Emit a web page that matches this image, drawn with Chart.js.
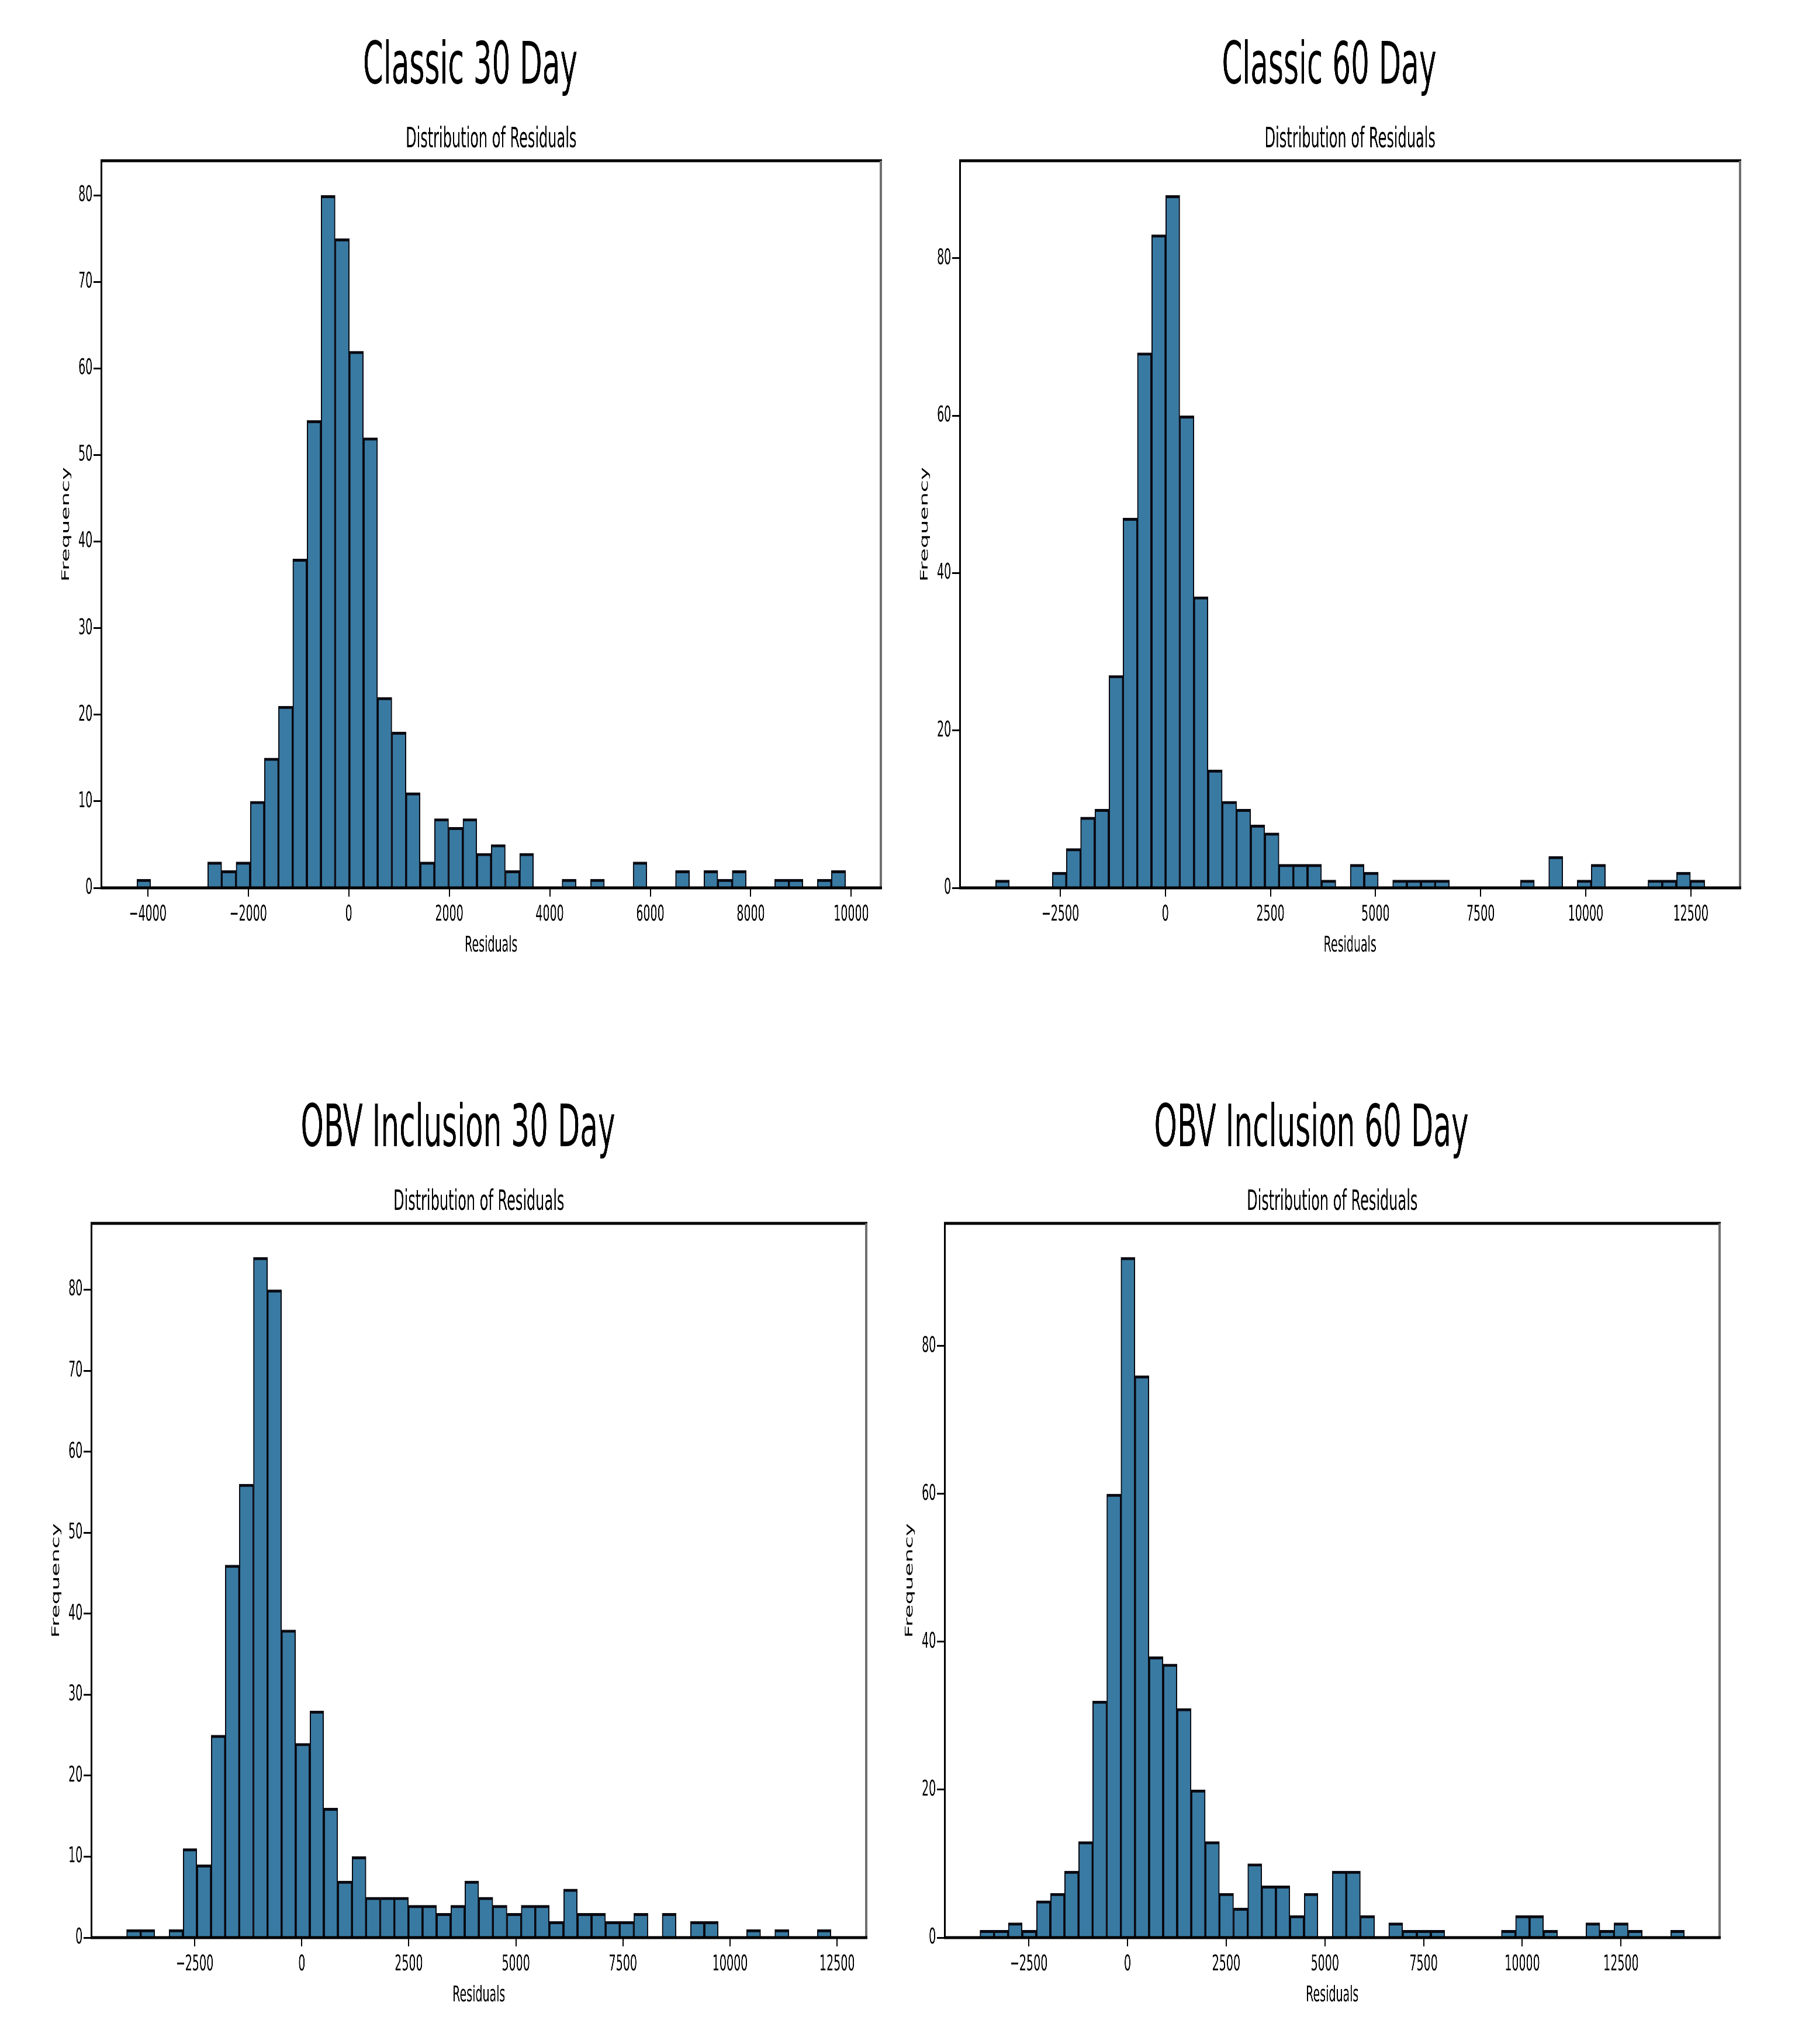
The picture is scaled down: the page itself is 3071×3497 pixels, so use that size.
<!DOCTYPE html>
<html>
<head>
<meta charset="utf-8">
<title>Distribution of Residuals</title>
<script src="https://cdn.jsdelivr.net/npm/chart.js@4.4.1/dist/chart.umd.min.js"></script>
<style>
  html, body { margin: 0; padding: 0; background: #fff; overflow: hidden; }
  /* la figura original está comprimida en horizontal: se dibuja al doble de ancho y se escala */
  #lienzo { position: relative; width: 6142px; height: 3497px; transform: scaleX(0.5); transform-origin: 0 0; }
  #lienzo canvas { position: absolute; }
</style>
</head>
<body>
<div id="lienzo"></div>
<script>
const classic30Counts = [1, 0, 0, 0, 0, 3, 2, 3, 10, 15, 21, 38, 54, 80, 75, 62, 52, 22, 18, 11,
  3, 8, 7, 8, 4, 5, 2, 4, 0, 0, 1, 0, 1, 0, 0, 3, 0, 0, 2, 0, 2, 1, 2, 0, 0, 1, 1, 0, 1, 2];
const classic60Counts = [1, 0, 0, 0, 2, 5, 9, 10, 27, 47, 68, 83, 88, 60, 37, 15, 11, 10, 8, 7,
  3, 3, 3, 1, 0, 3, 2, 0, 1, 1, 1, 1, 0, 0, 0, 0, 0, 1, 0, 4, 0, 1, 3, 0, 0, 0, 1, 1, 2, 1];
const obv30Counts = [1, 1, 0, 1, 11, 9, 25, 46, 56, 84, 80, 38, 24, 28, 16, 7, 10, 5, 5, 5,
  4, 4, 3, 4, 7, 5, 4, 3, 4, 4, 2, 6, 3, 3, 2, 2, 3, 0, 3, 0, 2, 2, 0, 0, 1, 0, 1, 0, 0, 1];
const obv60Counts = [1, 1, 2, 1, 5, 6, 9, 13, 32, 60, 92, 76, 38, 37, 31, 20, 13, 6, 4, 10,
  7, 7, 3, 6, 0, 9, 9, 3, 0, 2, 1, 1, 1, 0, 0, 0, 0, 1, 3, 3, 1, 0, 0, 2, 1, 2, 1, 0, 0, 1];

// Rango de los residuos (mínimo, máximo) de cada histograma
const classic30Range = [-4220, 9886];
const classic60Range = [-4045, 12832];
const obv30Range = [-4090, 12360];
const obv60Range = [-3738, 14108];

// Marcas de los ejes
const classic30XTicks = [-4000, -2000, 0, 2000, 4000, 6000, 8000, 10000];
const residualXTicks = [-2500, 0, 2500, 5000, 7500, 10000, 12500];
const yTicks10 = [0, 10, 20, 30, 40, 50, 60, 70, 80];
const yTicks20 = [0, 20, 40, 60, 80];

const panelTitles = ['Classic 30 Day', 'Classic 60 Day', 'OBV Inclusion 30 Day', 'OBV Inclusion 60 Day'];

// Geometría (px de la imagen original): caja de ejes [izq, arriba, der, abajo]
const ESCALA_X = 2;
const Y_AXIS_W = 143;
const X_AXIS_H = 122;
const PAD_DER = 10;

const paneles = [
  { titulo: panelTitles[0], counts: classic30Counts, range: classic30Range, xTicks: classic30XTicks, yTicks: yTicks10, eje: [173, 275, 1507, 1519] },
  { titulo: panelTitles[1], counts: classic60Counts, range: classic60Range, xTicks: residualXTicks, yTicks: yTicks20, eje: [1642, 275, 2977, 1519] },
  { titulo: panelTitles[2], counts: obv30Counts, range: obv30Range, xTicks: residualXTicks, yTicks: yTicks10, eje: [156, 2093, 1482, 3315] },
  { titulo: panelTitles[3], counts: obv60Counts, range: obv60Range, xTicks: residualXTicks, yTicks: yTicks20, eje: [1616, 2093, 2942, 3315] }
];

Chart.defaults.font.family = "'DejaVu Sans', sans-serif";
Chart.defaults.color = '#000';

const formatoTick = v => v < 0 ? '\u2212' + Math.abs(v) : String(v);

// Marco del área de ejes (spines)
const marcoEjes = {
  id: 'marcoEjes',
  afterDatasetsDraw(chart) {
    const { ctx, chartArea: a } = chart;
    const linea = (x1, y1, x2, y2, ancho, color) => {
      ctx.beginPath();
      ctx.lineWidth = ancho;
      ctx.strokeStyle = color;
      ctx.moveTo(x1, y1);
      ctx.lineTo(x2, y2);
      ctx.stroke();
    };
    ctx.save();
    linea(a.left - 3, a.top, a.right + 4, a.top, 5, '#000');
    linea(a.left, a.top, a.left, a.bottom, 6, '#000');
    linea(a.right, a.top, a.right, a.bottom, 8, '#707070');
    linea(a.left - 3, a.bottom, a.right + 4, a.bottom, 5, '#000');
    ctx.restore();
  }
};

function crearHistograma(p) {
  const ancho = (p.range[1] - p.range[0]) / p.counts.length;
  const puntos = p.counts.map((c, i) => ({ x: p.range[0] + (i + 0.5) * ancho, y: c }));
  const span = p.range[1] - p.range[0];

  const izq = p.eje[0] * ESCALA_X - Y_AXIS_W;
  const der = p.eje[2] * ESCALA_X + PAD_DER;
  const arriba = p.eje[1] - 275;
  const w = Math.round(der - izq);
  const h = Math.round(p.eje[3] + X_AXIS_H - arriba);

  const canvas = document.createElement('canvas');
  canvas.width = w;
  canvas.height = h;
  canvas.style.left = izq + 'px';
  canvas.style.top = arriba + 'px';
  canvas.style.width = w + 'px';
  canvas.style.height = h + 'px';
  document.getElementById('lienzo').appendChild(canvas);

  return new Chart(canvas, {
    type: 'bar',
    data: {
      datasets: [{
        data: puntos,
        backgroundColor: '#397aa2',
        borderColor: '#0a0a12',
        borderWidth: { top: 5, left: 4, right: 4, bottom: 0 },
        borderSkipped: 'start',
        barPercentage: 1,
        categoryPercentage: 1
      }]
    },
    options: {
      responsive: false,
      devicePixelRatio: 1,
      animation: false,
      layout: { padding: { left: 0, right: PAD_DER, top: 0, bottom: 0 } },
      scales: {
        x: {
          type: 'linear',
          min: p.range[0] - 0.05 * span,
          max: p.range[1] + 0.05 * span,
          offset: false,
          afterBuildTicks: s => { s.ticks = p.xTicks.map(v => ({ value: v })); },
          afterFit: s => { s.height = X_AXIS_H; },
          border: { display: false },
          grid: { display: true, drawOnChartArea: false, drawTicks: true, tickLength: 15, color: '#000', lineWidth: 4, offset: false },
          ticks: { padding: 8, autoSkip: false, maxRotation: 0, color: '#000', font: { size: 38 }, callback: v => formatoTick(v) },
          title: { display: true, text: 'Residuals', color: '#000', font: { size: 38 }, padding: { top: 0, bottom: 0 } }
        },
        y: {
          min: 0,
          max: Math.max(...p.counts) * 1.05,
          afterBuildTicks: s => { s.ticks = p.yTicks.map(v => ({ value: v })); },
          afterFit: s => { s.width = Y_AXIS_W; },
          border: { display: false },
          grid: { display: true, drawOnChartArea: false, drawTicks: true, tickLength: 26, color: '#000', lineWidth: 3 },
          ticks: { padding: 4, autoSkip: false, color: '#000', font: { size: 38 }, callback: v => formatoTick(v) },
          title: { display: true, text: 'Frequency', color: '#000', font: { size: 38 }, padding: { top: 0, bottom: 0 } }
        }
      },
      plugins: {
        legend: { display: false },
        tooltip: { enabled: false },
        title: {
          display: true,
          text: p.titulo,
          color: '#000',
          font: { size: 100, weight: 'normal' },
          padding: { top: 57, bottom: 0 }
        },
        subtitle: {
          display: true,
          text: 'Distribution of Residuals',
          color: '#000',
          fullSize: false,
          font: { size: 48, weight: 'normal' },
          padding: { top: 34, bottom: 6.4 }
        }
      }
    },
    plugins: [marcoEjes]
  });
}

paneles.forEach(p => crearHistograma(p));
</script>
</body>
</html>
